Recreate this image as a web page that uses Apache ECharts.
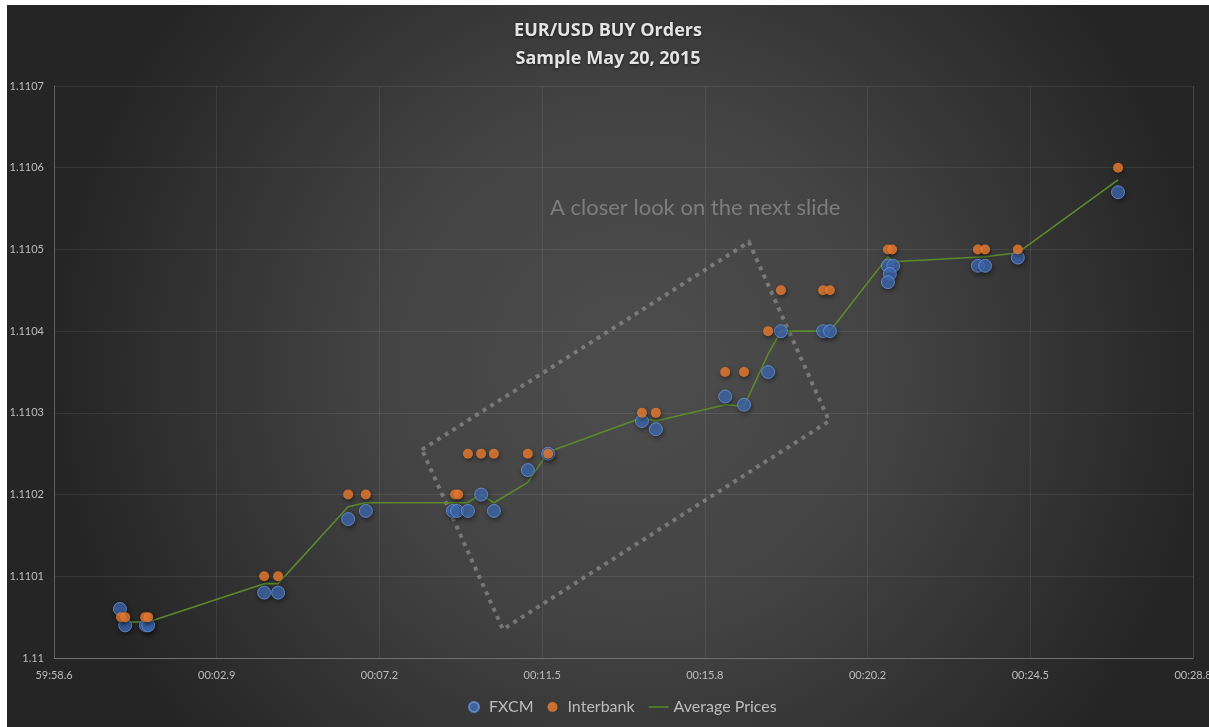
<!DOCTYPE html>
<html>
<head>
<meta charset="utf-8">
<script src="https://cdn.jsdelivr.net/npm/echarts@6/dist/echarts.min.js"></script>
<style>
  html, body { margin: 0; padding: 0; background: #fff; }
  #main { position: absolute; left: 7px; top: 5px; width: 1202px; height: 722px; }
</style>
</head>
<body>
<div id="main"></div>
<script>
// x = seconds after 59:58.56, y = EUR/USD price
const fxcm = [
  [1.75, 1.11006], [1.89, 1.11004], [2.44, 1.11004], [2.50, 1.11004],
  [5.58, 1.11008], [5.95, 1.11008],
  [7.81, 1.11017], [8.28, 1.11018],
  [10.59, 1.11018], [10.70, 1.11018], [10.99, 1.11018], [11.34, 1.11020], [11.68, 1.11018],
  [12.58, 1.11023], [13.12, 1.11025],
  [15.61, 1.11029], [15.98, 1.11028],
  [17.82, 1.11032], [18.32, 1.11031], [18.96, 1.11035], [19.30, 1.11040],
  [20.42, 1.11040], [20.60, 1.11040],
  [22.14, 1.11048], [22.28, 1.11048], [22.19, 1.11047], [22.14, 1.11046],
  [24.53, 1.11048], [24.72, 1.11048], [25.59, 1.11049],
  [28.25, 1.11057]
]
const interbank = [
  [1.78, 1.11005], [1.89, 1.11005], [2.42, 1.11005], [2.50, 1.11005],
  [5.58, 1.11010], [5.95, 1.11010],
  [7.81, 1.11020], [8.28, 1.11020],
  [10.65, 1.11020], [10.73, 1.11020], [10.99, 1.11025], [11.34, 1.11025], [11.68, 1.11025],
  [12.58, 1.11025], [13.12, 1.11025],
  [15.61, 1.11030], [15.98, 1.11030],
  [17.82, 1.11035], [18.32, 1.11035], [18.96, 1.11040], [19.30, 1.11045],
  [20.42, 1.11045], [20.60, 1.11045],
  [22.14, 1.11050], [22.25, 1.11050],
  [24.53, 1.11050], [24.72, 1.11050], [25.59, 1.11050],
  [28.25, 1.11060]
]
const averagePrices = [
  [1.89, 1.110044], [2.50, 1.110044],
  [5.58, 1.110091], [5.95, 1.110091],
  [7.81, 1.110185], [8.28, 1.110190],
  [10.59, 1.110190], [10.97, 1.110190], [11.34, 1.110200], [11.68, 1.110190],
  [12.58, 1.110215], [13.12, 1.110252],
  [15.61, 1.110294], [15.98, 1.110290],
  [17.82, 1.110310], [18.32, 1.110308], [18.96, 1.110372], [19.30, 1.110400],
  [20.60, 1.110400],
  [22.14, 1.110491], [22.28, 1.110485], [24.72, 1.110491], [25.59, 1.110496],
  [28.25, 1.110585]
]
// dotted callout box corners (data coords)
const calloutBox = [
  [9.77, 1.110255], [18.45, 1.110509], [20.58, 1.110290], [11.92, 1.110035], [9.77, 1.110255]
]
const legendNames = ['FXCM', 'Interbank', 'Average Prices']
const xStart = 58.56   // seconds of 59:xx at x = 0
const xStep = 4.32
const yMin = 1.11, yMax = 1.1107, yStep = 0.0001

function fmtTime(v) {
    let s = xStart + v
    let m = '59'
    if (s >= 60) { s -= 60; m = '00' }
    let t = s.toFixed(1)
    if (s < 10) t = '0' + t
    return m + ':' + t
}

const chart = echarts.init(document.getElementById('main'))
const labelColor = '#bdbdbd'
const lineGreen = '#5a8a2c'
chart.setOption({
    backgroundColor: {
        type: 'radial', x: 0.52, y: 0.5, r: 0.8,
        colorStops: [
            { offset: 0, color: '#4d4d4d' },
            { offset: 0.45, color: '#434343' },
            { offset: 1, color: '#252525' }
        ]
    },
    title: {
        text: 'EUR/USD BUY Orders\nSample May 20, 2015',
        left: 'center',
        top: 7,
        textStyle: {
            fontFamily: 'Open Sans', fontSize: 18, fontWeight: 'bold', lineHeight: 28,
            color: '#e4e4e4', textShadowColor: 'rgba(0,0,0,0.6)', textShadowBlur: 3, textShadowOffsetY: 1
        }
    },
    legend: {
        data: [
            { name: 'FXCM' },
            { name: 'Interbank' },
            { name: 'Average Prices', icon: 'path://M0,0 H20 V1.5 H0 Z' }
        ],
        left: 456,
        bottom: 7,
        itemWidth: 20,
        itemHeight: 10,
        itemGap: 14,
        textStyle: { fontFamily: 'Lato', fontSize: 16, color: labelColor }
    },
    grid: { left: 47, right: 16, top: 81, bottom: 69, outerBoundsMode: 'none' },
    xAxis: {
        type: 'value',
        min: 0, max: xStep * 7, interval: xStep,
        axisLine: { lineStyle: { color: '#707070' } },
        axisTick: { show: false },
        splitLine: { lineStyle: { color: 'rgba(255,255,255,0.08)' } },
        axisLabel: { formatter: fmtTime, color: labelColor, fontFamily: 'Lato', fontSize: 11, margin: 12 }
    },
    yAxis: {
        type: 'value',
        min: yMin, max: yMax, interval: yStep,
        axisLine: { show: true, lineStyle: { color: '#606060' } },
        axisTick: { show: false },
        splitLine: { lineStyle: { color: 'rgba(255,255,255,0.08)' } },
        axisLabel: {
            formatter: v => String(parseFloat(v.toFixed(4))),
            color: labelColor, fontFamily: 'Lato', fontSize: 11, margin: 10
        }
    },
    graphic: [{
        type: 'text',
        left: 543, top: 192,
        style: { text: 'A closer look on the next slide', fill: '#7d7d7d', font: '22px Lato' }
    }],
    series: [
        {
            name: 'callout',
            type: 'line',
            data: calloutBox,
            symbol: 'none',
            silent: true,
            z: 1,
            lineStyle: { color: 'rgba(170,170,170,0.5)', width: 4, type: [4, 5], cap: 'butt', join: 'miter' }
        },
        {
            name: 'Average Prices',
            type: 'line',
            data: averagePrices,
            symbol: 'none',
            z: 2,
            lineStyle: { color: lineGreen, width: 1.6 },
            itemStyle: { color: lineGreen }
        },
        {
            name: 'FXCM',
            type: 'scatter',
            data: fxcm,
            symbolSize: 13,
            z: 3,
            itemStyle: {
                color: 'rgba(70,118,200,0.88)', borderColor: 'rgba(110,155,230,0.9)', borderWidth: 1,
                shadowBlur: 4, shadowColor: 'rgba(0,0,0,0.55)', shadowOffsetX: 1, shadowOffsetY: 2
            }
        },
        {
            name: 'Interbank',
            type: 'scatter',
            data: interbank,
            symbolSize: 10,
            z: 4,
            itemStyle: {
                color: '#ed7d31',
                shadowBlur: 4, shadowColor: 'rgba(0,0,0,0.55)', shadowOffsetX: 1, shadowOffsetY: 2
            }
        }
    ]
})
</script>
</body>
</html>
